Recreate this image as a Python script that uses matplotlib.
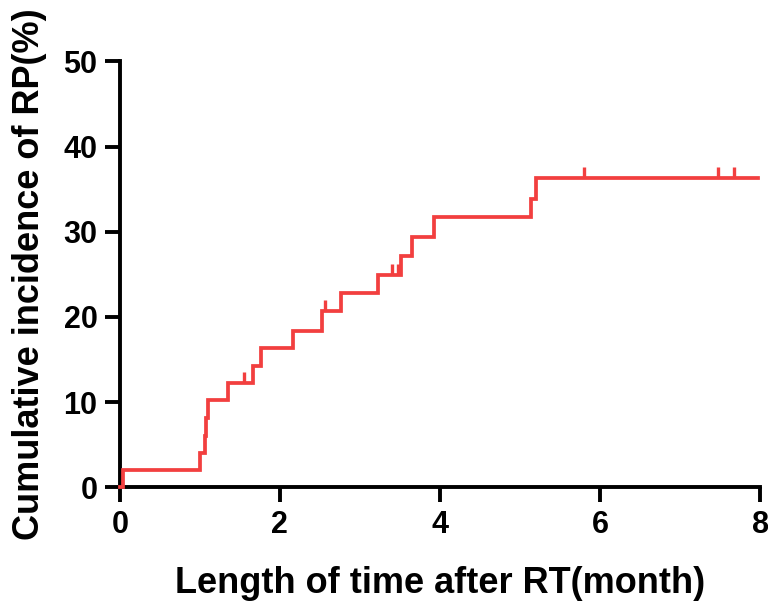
import matplotlib
matplotlib.use("Agg")
import matplotlib.pyplot as plt

# step points of the cumulative incidence curve (months, %)
times = [0, 0.04, 1.0, 1.06, 1.08, 1.10, 1.35, 1.66, 1.76, 2.16, 2.52,
         2.76, 3.22, 3.51, 3.65, 3.93, 5.13, 5.20, 7.97]
incidence = [0, 2.0, 4.0, 6.0, 8.1, 10.2, 12.2, 14.3, 16.4, 18.4, 20.7,
             22.8, 24.9, 27.1, 29.4, 31.7, 33.9, 36.3, 36.3]

# censored observations
censor_times = [1.55, 2.56, 3.40, 3.48, 5.80, 7.47, 7.67]
censor_levels = [12.2, 20.7, 24.9, 24.9, 36.3, 36.3, 36.3]

x_ticks = [0, 2, 4, 6, 8]
y_ticks = [0, 10, 20, 30, 40, 50]

red = "#F23F3F"

plt.rcParams['font.family'] = ['Liberation Sans', 'DejaVu Sans']
plt.rcParams['font.weight'] = 'bold'

fig = plt.figure(figsize=(7.68, 6.01), dpi=100)
ax = fig.add_axes([0.156, 0.189, 0.834, 0.709])

ax.step(times, incidence, where='post', color=red, lw=2.7, clip_on=False,
        solid_joinstyle='miter', zorder=3)
ax.plot(censor_times, censor_levels, linestyle='none', marker=2,
        markersize=8, markeredgewidth=2.4, color=red, clip_on=False, zorder=3)

ax.set_xlim(0, 8)
ax.set_ylim(0, 50)
ax.set_xticks(x_ticks)
ax.set_yticks(y_ticks)

for side in ['top', 'right']:
    ax.spines[side].set_visible(False)
for side in ['left', 'bottom']:
    ax.spines[side].set_linewidth(2.8)

ax.tick_params(axis='both', direction='out', length=11, width=2.8,
               labelsize=22, pad=5)
for lab in ax.get_xticklabels() + ax.get_yticklabels():
    lab.set_fontweight('bold')

ax.set_xlabel('Length of time after RT(month)', fontsize=26,
              fontweight='bold', labelpad=19)
ax.set_ylabel('Cumulative incidence of RP(%)', fontsize=26,
              fontweight='bold', labelpad=12)

fig.savefig('out.png', dpi=100)
